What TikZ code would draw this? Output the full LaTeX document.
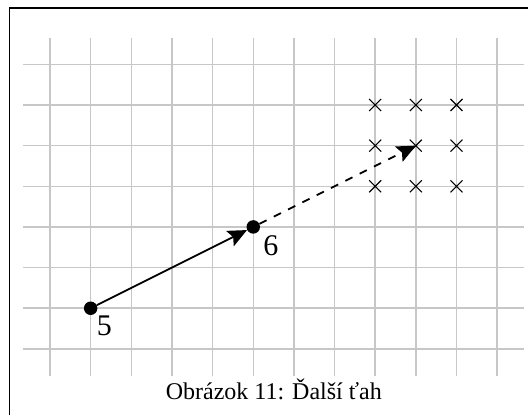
\documentclass[tikz,border=0pt]{standalone}
\usepackage{fontspec}
\setmainfont{Liberation Serif}
\usetikzlibrary{arrows.meta}
\tikzset{
  gridline/.style={draw=black!22, line width=1.5pt},
  framebox/.style={draw=black, line width=1.6pt},
  dotnode/.style={circle, fill=black, inner sep=0pt, minimum size=13.5pt},
  movearrow/.style={line width=1.7pt, -{Stealth[length=19pt,width=17pt,inset=3.5pt]}},
  nextarrow/.style={movearrow, dash pattern=on 8pt off 8pt},
  crossmark/.style={line width=1.1pt},
  numlabel/.style={font=\fontsize{30}{32}\selectfont, inner sep=0pt, anchor=base west},
  captiontext/.style={font=\fontsize{24}{26}\selectfont, inner sep=0pt, anchor=base}
}
\begin{document}
\begin{tikzpicture}[x=1pt,y=1pt]
\useasboundingbox (0,0) rectangle (528,415);
% frame (only left and top visible)
\draw[framebox] (9.3,-2) -- (9.3,407) -- (530,407);
\begin{scope}[shift={(50pt,66.1pt)}, x=40.65pt, y=40.65pt]
  % grid
  \foreach \i in {0,...,11} \draw[gridline] (\i,-0.66) -- (\i,7.66);
  \foreach \j in {0,...,7} \draw[gridline] (-0.67,\j) -- (11.66,\j);
  % crosses
  \foreach \i in {8,9,10} \foreach \j in {4,5,6}
    \draw[crossmark] ([shift={(-6pt,-6pt)}]\i,\j) -- ([shift={(6pt,6pt)}]\i,\j)
                     ([shift={(-6pt,6pt)}]\i,\j) -- ([shift={(6pt,-6pt)}]\i,\j);
  % moves
  \node[dotnode] (p5) at (1,1) {};
  \node[dotnode] (p6) at (5,3) {};
  \coordinate (target) at (9,5);
  \draw[movearrow] (p5) -- (p6);
  \draw[nextarrow] (p6) -- (target);
  \node[numlabel] (l5) at ([shift={(6pt,-27pt)}]p5.center) {5};
  \node[numlabel] (l6) at ([shift={(10pt,-29pt)}]p6.center) {6};
\end{scope}
\node[captiontext] (cap) at (273.8,15) {Obrázok 11: Ďalší ťah};
\end{tikzpicture}
\end{document}
